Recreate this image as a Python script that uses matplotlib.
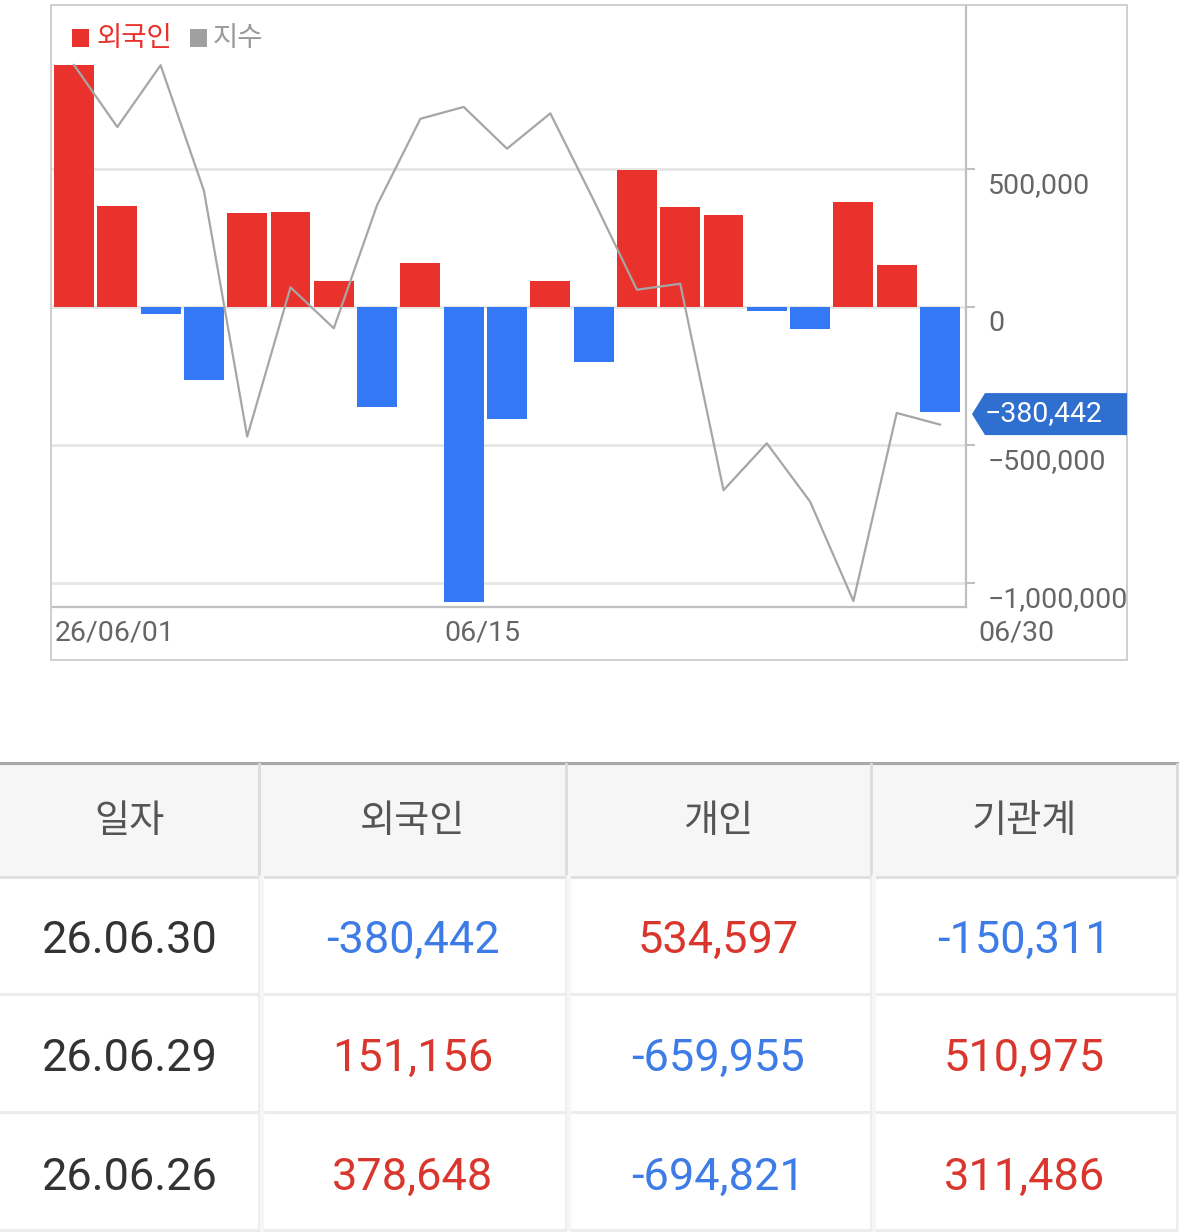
import matplotlib
matplotlib.use("Agg")
from matplotlib import pyplot as plt
from matplotlib import transforms as mtransforms
from matplotlib.patches import Rectangle, Polygon

plt.rcParams['font.family'] = ['Roboto', 'Noto Sans CJK KR', 'DejaVu Sans']

# Daily foreign net buying (bars) and index (hidden right scale line), June 2026.
dates = ["06/01", "06/02", "06/04", "06/05", "06/08", "06/09", "06/10",
         "06/11", "06/12", "06/15", "06/16", "06/17", "06/18", "06/19",
         "06/22", "06/23", "06/24", "06/25", "06/26", "06/29", "06/30"]
foreign_net = [876000, 365600, -24000, -263000, 342000, 344500, 94100,
               -360900, 159300, -1066800, -404400, 93500, -198000, 495900,
               362000, 333000, -13400, -78600, 378648, 151156, -380442]
index_vals = [2920.1, 2889.2, 2920.0, 2857.5, 2734.9, 2809.3, 2788.9,
              2850.3, 2893.3, 2899.2, 2878.4, 2896.0, 2852.8, 2808.1,
              2811.1, 2708.2, 2731.6, 2702.5, 2653.0, 2746.7, 2740.9]
y_ticks = [500000, 0, -500000, -1000000]
y_tick_labels = ["500,000", "0", "−500,000", "−1,000,000"]
x_label_idx = [0, 9]
x_label_text = ["26/06/01", "06/15"]
last_label = "06/30"

# Table below the chart
headers = ["일자", "외국인", "개인", "기관계"]
table_dates = ["26.06.30", "26.06.29", "26.06.26"]
t_foreign = [-380442, 151156, 378648]
t_individual = [534597, -659955, -694821]
t_institution = [-150311, 510975, 311486]

RED = '#e8322b'
BLUE = '#3478f6'
T_RED = '#d9372d'
T_BLUE = '#3d7be6'

W, H = 1179, 1232
fig = plt.figure(figsize=(W / 100, H / 100), dpi=100)

# chart axes (pixel layout: x 52..966, y 5..607 from top)
ax = fig.add_axes([52 / W, 1 - 607 / H, 914 / W, 602 / H])
xs = list(range(len(foreign_net)))
colors = [RED if v >= 0 else BLUE for v in foreign_net]
ax.bar(xs, foreign_net, width=0.92, color=colors, zorder=2)
ax.set_xlim(-0.508, 20.6)
ax.set_ylim(-1086000, 1093240)
ax.set_xticks([])
ax.grid(axis='y', color='#e6e6e6', linewidth=2, zorder=0)
ax.set_axisbelow(True)
for side in ['left', 'top']:
    ax.spines[side].set_visible(False)
for side in ['right', 'bottom']:
    ax.spines[side].set_color('#c0c0c0')
    ax.spines[side].set_linewidth(1.6)

# index line on a hidden second scale
ax2 = ax.twinx()
ax2.plot(xs, index_vals, color='#a6a6a6', linewidth=1.6, zorder=3)
ax2.set_ylim(2650, 2950)
ax2.set_xlim(-0.508, 20.6)
ax2.axis('off')

# twinx moves the first axes' ticks to the left, so put them back on the right
ax.set_yticks(y_ticks)
ax.yaxis.tick_right()
ax.tick_params(axis='y', which='both', left=False, right=True, length=6.5,
               width=1.5, color='#c0c0c0', labelright=False, labelleft=False)

# right-side value labels, a little below each grid line
ylab_trans = mtransforms.offset_copy(
    mtransforms.blended_transform_factory(ax.transAxes, ax.transData),
    fig=fig, x=22, y=-24, units='dots')
for v, lab in zip(y_ticks, y_tick_labels):
    ax.text(1.0, v, lab, transform=ylab_trans, ha='left', va='baseline',
            fontsize=20.5, color='#666666', clip_on=False)

# date labels under the plot
xlab_trans = mtransforms.offset_copy(
    mtransforms.blended_transform_factory(ax.transData, ax.transAxes),
    fig=fig, x=0, y=-34, units='dots')
for i, lab in zip(x_label_idx, x_label_text):
    ax.text(i - 0.44, 0, lab, transform=xlab_trans, ha='left', va='baseline',
            fontsize=20.5, color='#666666', clip_on=False)
ax.text(20.88, 0, last_label, transform=xlab_trans, ha='left', va='baseline',
        fontsize=20.5, color='#666666', clip_on=False)

# overlay axes in pixel coordinates for frame, legend, tag and table
ov = fig.add_axes([0, 0, 1, 1], zorder=10)
ov.set_xlim(0, W)
ov.set_ylim(H, 0)
ov.axis('off')
ov.patch.set_alpha(0)

ov.add_patch(Rectangle((51, 5), 1076, 655, fill=False, edgecolor='#cccccc', linewidth=1.3))

# legend
ov.add_patch(Rectangle((72, 29), 17, 18, facecolor=RED, edgecolor='none'))
ov.text(96, 46, "외국인", fontsize=19.8, color=RED, ha='left', va='baseline',
        family=['Noto Sans CJK KR', 'DejaVu Sans'])
ov.add_patch(Rectangle((190, 29), 17, 18, facecolor='#a0a0a0', edgecolor='none'))
ov.text(213, 46, "지수", fontsize=19.8, color='#999999', ha='left', va='baseline',
        family=['Noto Sans CJK KR', 'DejaVu Sans'])

# last value tag
ty = H - ax.transData.transform((0, foreign_net[-1]))[1] + 2
ov.add_patch(Polygon([(972, ty), (985, ty - 21), (1127, ty - 21), (1127, ty + 21), (985, ty + 21)],
                     closed=True, facecolor='#2f6fd0', edgecolor='none'))
tag = f"{foreign_net[-1]:,}".replace('-', '−')
ov.text(985, ty + 7, tag, fontsize=20.5, color='white', ha='left', va='baseline')

# table
col_edges = [0, 259, 566, 871, 1177]
row_edges = [764, 877, 994, 1112, 1230]
ov.add_patch(Rectangle((0, row_edges[0]), W, row_edges[1] - row_edges[0],
                       facecolor='#f6f6f6', edgecolor='none'))
ov.plot([0, W], [763, 763], color='#a8a8a8', linewidth=2.2)
ov.plot([0, W], [row_edges[1], row_edges[1]], color='#e0e0e0', linewidth=2.2)
for y in row_edges[2:]:
    ov.plot([0, W], [y, y], color='#ececec', linewidth=2.2)
for x in col_edges[1:]:
    ov.plot([x, x], [row_edges[0], row_edges[1]], color='#dcdcdc', linewidth=2)
    ov.plot([x, x], [row_edges[1], H], color='#ededed', linewidth=2)
    ov.plot([x + 3, x + 3], [row_edges[1], H], color='#f6f6f6', linewidth=3)

centers = [(col_edges[i] + col_edges[i + 1]) / 2 for i in range(4)]
for c, h in zip(centers, headers):
    ov.text(c, 832, h, fontsize=27.5, color='#555555', ha='center', va='baseline',
            family=['Noto Sans CJK KR', 'DejaVu Sans'])

baselines = [953, 1071, 1190]
for r in range(3):
    b = baselines[r]
    ov.text(centers[0], b, table_dates[r], fontsize=32.5, color='#333333',
            ha='center', va='baseline')
    for c, vals in zip(centers[1:], [t_foreign, t_individual, t_institution]):
        v = vals[r]
        ov.text(c, b, f"{v:,}", fontsize=32.5, color=T_RED if v >= 0 else T_BLUE,
                ha='center', va='baseline')

plt.savefig('out.png', dpi=100)
